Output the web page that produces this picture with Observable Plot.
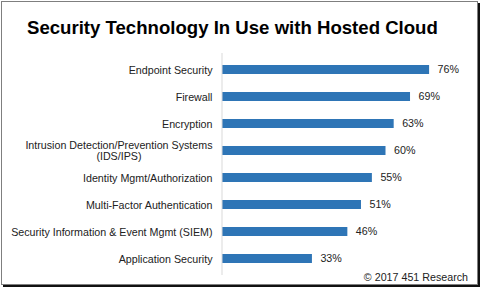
<!DOCTYPE html>
<html><head><meta charset="utf-8">
<script src="https://cdn.jsdelivr.net/npm/d3@7"></script>
<script src="https://cdn.jsdelivr.net/npm/@observablehq/plot@0.6"></script>
<style>
body{margin:0;background:#fff;font-family:"Liberation Sans",Arial,sans-serif;}
#wrap{position:relative;width:481px;height:289px;overflow:hidden;background:#fff;}
#frame{position:absolute;left:1px;top:1px;width:477px;height:284px;box-sizing:border-box;border:1px solid #7f7f7f;box-shadow:2px 2px 0 #111;}
#chart{position:absolute;left:0;top:0;}
#title{position:absolute;left:27px;top:19px;font-size:18.6px;line-height:1;font-weight:bold;color:#000;white-space:nowrap;}
#caption{position:absolute;right:13px;top:272px;font-size:10.7px;line-height:1;color:#222;white-space:nowrap;}
</style></head>
<body>
<div id="wrap">
  <div id="frame"></div>
  <div id="chart"></div>
  <div id="title">Security Technology In Use with Hosted Cloud</div>
  <div id="caption">© 2017 451 Research</div>
</div>
<script>
const categories = [
  "Endpoint Security",
  "Firewall",
  "Encryption",
  "Intrusion Detection/Prevention Systems\n(IDS/IPS)",
  "Identity Mgmt/Authorization",
  "Multi-Factor Authentication",
  "Security Information & Event Mgmt (SIEM)",
  "Application Security"
];
const values = [76, 69, 63, 60, 55, 51, 46, 33];

const data = categories.map((c, i) => ({category: c, value: values[i]}));
const font = "Liberation Sans, Arial, sans-serif";

const chart = Plot.plot({
  width: 481,
  height: 289,
  marginLeft: 222,
  marginRight: 41,
  marginTop: 53,
  marginBottom: 14,
  style: {fontFamily: font, fontSize: "10.7px", color: "#222", background: "transparent"},
  x: {domain: [0, 80], axis: null},
  y: {domain: categories, paddingInner: 0.66, paddingOuter: 0.33, axis: null},
  marks: [
    Plot.text(categories, {x: 0, y: d => d, text: d => d, textAnchor: "end", dx: -10, fill: "#222", fontSize: 10.7, lineHeight: 1.02}),
    Plot.barX(data, {x: "value", y: "category", fill: "#2e75b6"}),
    Plot.ruleX([0], {stroke: "#d9d9d9", strokeWidth: 1, dx: -0.5}),
    Plot.text(data, {x: "value", y: "category", text: d => d.value + "%", textAnchor: "start", dx: 8, fill: "#222", fontSize: 10.7})
  ]
});
document.getElementById("chart").appendChild(chart);

// center multi-line category labels within their own block (right edge kept)
chart.querySelectorAll("text").forEach(t => {
  const spans = t.querySelectorAll("tspan");
  if (spans.length > 1) {
    let w = 0;
    spans.forEach(s => { w = Math.max(w, s.getComputedTextLength()); });
    spans.forEach(s => s.setAttribute("x", String(-w / 2)));
    t.setAttribute("text-anchor", "middle");
  }
});
</script>
</body></html>
